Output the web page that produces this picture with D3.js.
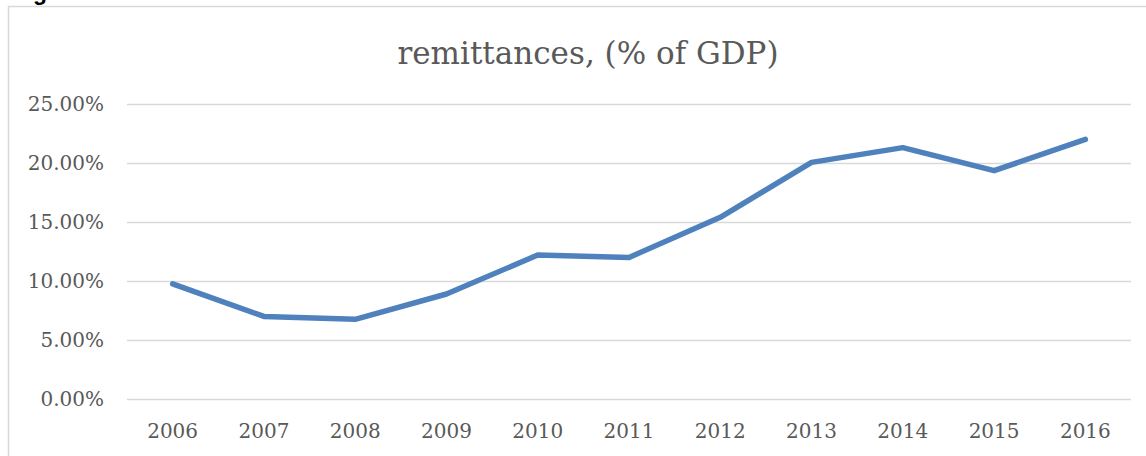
<!DOCTYPE html>
<html>
<head>
<meta charset="utf-8">
<script src="https://cdn.jsdelivr.net/npm/d3@7"></script>
<style>
  body { margin: 0; background: #fff; }
  svg { display: block; }
</style>
</head>
<body>
<div id="chart"></div>
<script>
const years = [`2006`, `2007`, `2008`, `2009`, `2010`, `2011`, `2012`, `2013`, `2014`, `2015`, `2016`];
const remittances = [9.75, 7.0, 6.75, 8.9, 12.2, 12.0, 15.4, 20.05, 21.3, 19.35, 22.0];
const yTicks = [0, 5, 10, 15, 20, 25];
const title = `remittances, (% of GDP)`;

const width = 1146;
const height = 456;
const margin = { top: 104, right: 15, bottom: 57, left: 127 };
const font = `"DejaVu Serif", serif`;

const svg = d3.select(`#chart`).append(`svg`)
    .attr(`width`, width)
    .attr(`height`, height);

// cropped caption fragment above the chart box
svg.append(`text`)
    .attr(`x`, 33)
    .attr(`y`, 0)
    .attr(`font-family`, `"Liberation Sans", Arial, sans-serif`)
    .attr(`font-weight`, `bold`)
    .attr(`font-size`, 23)
    .attr(`fill`, `#000`)
    .text(`g`);

// chart area border
svg.append(`rect`)
    .attr(`x`, 8.5)
    .attr(`y`, 6.5)
    .attr(`width`, width + 20)
    .attr(`height`, height + 20)
    .attr(`fill`, `none`)
    .attr(`stroke`, `#d9d9d9`)
    .attr(`stroke-width`, 1.5);

const x = d3.scaleBand()
    .domain(years)
    .range([margin.left, width - margin.right]);

const y = d3.scaleLinear()
    .domain([0, 25])
    .range([height - margin.bottom, margin.top]);

// gridlines
svg.append(`g`)
    .selectAll(`line`)
    .data(yTicks)
  .enter().append(`line`)
    .attr(`x1`, margin.left)
    .attr(`x2`, width - margin.right)
    .attr(`y1`, (d) => Math.round(y(d)) + 0.5)
    .attr(`y2`, (d) => Math.round(y(d)) + 0.5)
    .attr(`stroke`, `#d9d9d9`)
    .attr(`stroke-width`, 1.5);

// y labels
svg.append(`g`)
    .selectAll(`text`)
    .data(yTicks)
  .enter().append(`text`)
    .attr(`x`, 104)
    .attr(`y`, (d) => y(d))
    .attr(`dy`, `0.35em`)
    .attr(`text-anchor`, `end`)
    .attr(`font-family`, font)
    .attr(`font-size`, 20)
    .attr(`fill`, `#595959`)
    .text((d) => d.toFixed(2) + `%`);

// x labels
svg.append(`g`)
    .selectAll(`text`)
    .data(years)
  .enter().append(`text`)
    .attr(`x`, (d) => x(d) + x.bandwidth() / 2)
    .attr(`y`, 438)
    .attr(`text-anchor`, `middle`)
    .attr(`font-family`, font)
    .attr(`font-size`, 20)
    .attr(`fill`, `#595959`)
    .text((d) => d);

// title
svg.append(`text`)
    .attr(`x`, 588)
    .attr(`y`, 64)
    .attr(`text-anchor`, `middle`)
    .attr(`font-family`, font)
    .attr(`font-size`, 31)
    .attr(`fill`, `#595959`)
    .text(title);

const line = d3.line()
    .x((d, i) => x(years[i]) + x.bandwidth() / 2)
    .y((d) => y(d));

svg.append(`path`)
    .datum(remittances)
    .attr(`d`, line)
    .attr(`fill`, `none`)
    .attr(`stroke`, `#4f81bd`)
    .attr(`stroke-width`, 5.5)
    .attr(`stroke-linejoin`, `round`)
    .attr(`stroke-linecap`, `round`);
</script>
</body>
</html>
